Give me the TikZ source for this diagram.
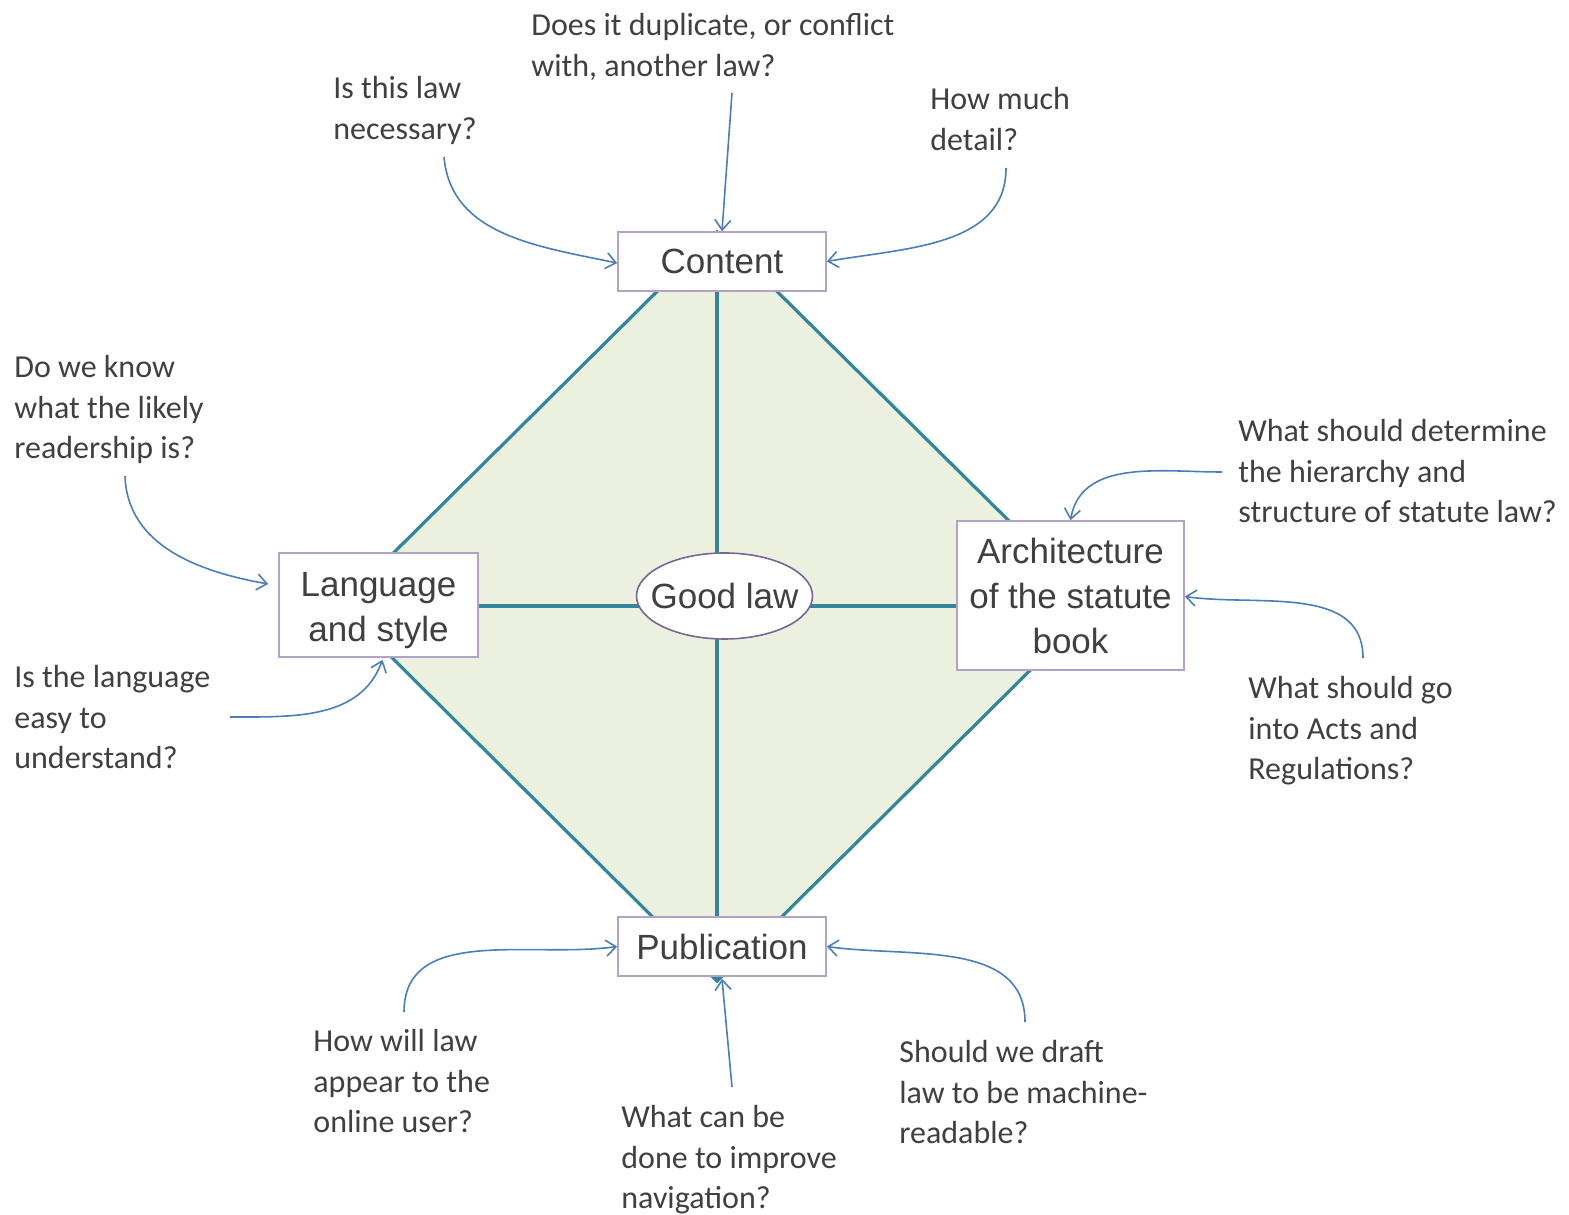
\documentclass[tikz,border=0pt]{standalone}
\usepackage{fontspec}
\setmainfont{Carlito}
\newfontfamily\boxfont{Liberation Sans}
\usetikzlibrary{arrows.meta,shapes.geometric}
\definecolor{dfill}{HTML}{EBF1DE}
\definecolor{dteal}{HTML}{31859C}
\definecolor{boxline}{HTML}{B3A2C7}
\definecolor{ellline}{HTML}{7A6595}
\definecolor{arrblue}{HTML}{4A7EBB}
\definecolor{txt}{HTML}{404040}
\tikzset{
  qtext/.style={anchor=north west, inner sep=0pt, align=left, text=txt,
    font=\fontsize{16}{20.2}\selectfont},
  mainbox/.style={draw=boxline, line width=0.8pt, fill=white, inner sep=0pt,
    align=center, text=txt, font=\boxfont\fontsize{17.5}{22.5}\selectfont},
  boxtext/.style={inner sep=0pt, align=center, text=txt, font=\boxfont\fontsize{17.5}{22.5}\selectfont},
  arr/.style={draw=arrblue, line width=0.8pt, -{Straight Barb[length=5pt,width=8pt]}},
  tealline/.style={draw=dteal, line width=1.6pt}
}
\begin{document}
\begin{tikzpicture}[x=0.5pt,y=0.5pt]
\useasboundingbox (0,0) rectangle (1569,1215);
% diamond
\coordinate (dtop) at (717,983);
\coordinate (dright) at (1095,609);
\coordinate (dbottom) at (717,234);
\coordinate (dleft) at (340,609);
\fill[dfill] (dtop) -- (dright) -- (dbottom) -- (dleft) -- cycle;
\draw[tealline] (dtop) -- (dright) -- (dbottom) -- (dleft) -- cycle;
\draw[tealline] (dtop) -- (dbottom);
\draw[tealline] (dleft) -- (dright);
% main nodes
\node[mainbox, minimum width=104pt, minimum height=29.5pt] (content) at (722,953.5) {Content};
\node[mainbox, minimum width=99.5pt, minimum height=52pt] (language) at (378.5,610) {};
\node[boxtext] (languagetext) at ([yshift=-3pt]language.center) {Language\\and style};
\node[mainbox, minimum width=113.5pt, minimum height=74.5pt] (arch) at (1070.5,619.5) {Architecture\\of the statute\\book};
\node[mainbox, minimum width=104pt, minimum height=29.5pt] (publication) at (722,268.5) {Publication};
\node[draw=ellline, line width=0.8pt, fill=white, ellipse, inner sep=0pt, minimum width=88pt, minimum height=43pt,
  text=txt, font=\boxfont\fontsize{17.5}{22.5}\selectfont] (goodlaw) at (724.5,619) {\makebox[0pt][c]{Good law}};
% question texts
\node[qtext] (q1) at (333,1145) {\strut Is this law\\necessary?};
\node[qtext] (q2) at (531,1208) {\strut Does it duplicate, or conflict\\with, another law?};
\node[qtext] (q3) at (930,1134) {\strut How much\\detail?};
\node[qtext] (q4) at (14,866) {\strut Do we know\\what the likely\\readership is?};
\node[qtext] (q6) at (1238,802) {\strut What should determine\\the hierarchy and\\structure of statute law?};
\node[qtext] (q5) at (14,556) {\strut Is the language\\easy to\\understand?};
\node[qtext] (q7) at (1248,545) {\strut What should go\\into Acts and\\Regulations?};
\node[qtext] (q8) at (313,192) {\strut How will law\\appear to the\\online user?};
\node[qtext] (q9) at (621,116) {\strut What can be\\done to improve\\navigation?};
\node[qtext] (q10) at (899,181) {\strut Should we draft\\law to be machine-\\readable?};
% arrow start points
\coordinate (s1) at (444,1058);
\coordinate (s2) at (732,1122);
\coordinate (s3) at (1006,1047);
\coordinate (s4) at (125,739);
\coordinate (s5) at (230,498);
\coordinate (s6) at (1222,743);
\coordinate (s7) at (1363,557);
\coordinate (s8) at (404,203);
\coordinate (s9) at (732,128);
\coordinate (s10) at (1025,193);
% arrows
\draw[arr] (s1) to[out=-85,in=168] ([yshift=-0.8pt]content.west);
\draw[arr] (s2) -- (content.north);
\draw[arr] (s3) to[out=-90,in=10] (content.east);
\draw[arr] (s4) to[out=-88,in=170] ([xshift=-5pt,yshift=10.5pt]language.west);
\draw[arr] (s5) to[out=0,in=-110] ([xshift=2pt,yshift=-1pt]language.south);
\draw[arr] (s6) to[out=180,in=80] (arch.north);
\draw[arr] (s7) to[out=90,in=-8] ([yshift=-0.5pt]arch.east);
\draw[arr] (s8) to[out=90,in=188] (publication.west);
\draw[arr] (s9) -- ([yshift=-1pt]publication.south);
\draw[arr] (s10) to[out=90,in=-8] (publication.east);
\end{tikzpicture}
\end{document}
